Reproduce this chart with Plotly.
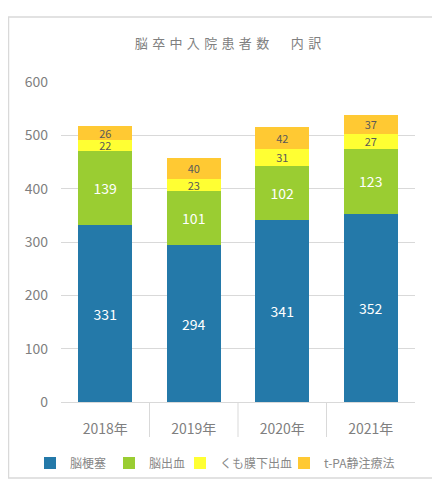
import plotly.graph_objects as go

years = ["2018年", "2019年", "2020年", "2021年"]
infarction = [331, 294, 341, 352]
hemorrhage = [139, 101, 102, 123]
subarachnoid = [22, 23, 31, 27]
tpa = [26, 40, 42, 37]

series_names = ["脳梗塞", "脳出血", "くも膜下出血", "t-PA静注療法"]
colors = ["#2479A9", "#9ACD32", "#FFFF33", "#FFC933"]
label_colors = ["white", "white", "#595959", "#595959"]
label_sizes = [14, 14, 11, 11]
legend_ids = ["legend", "legend2", "legend3", "legend4"]
legend_left = [22, 101, 172, 276]   # figure pixels

FONT = "Noto Sans CJK JP"
fig = go.Figure()
for name, vals, col, lc, ls, lg in zip(series_names, [infarction, hemorrhage, subarachnoid, tpa],
                                       colors, label_colors, label_sizes, legend_ids):
    fig.add_trace(go.Bar(
        x=years, y=vals, name=name, marker=dict(color=col, line=dict(width=0)),
        text=vals, textposition="inside", insidetextanchor="middle",
        textfont=dict(color=lc, size=ls, family=FONT), textangle=0,
        constraintext="none", legend=lg,
    ))

# page body has 8px margin: targets below are in figure pixels
W, H = 440, 500
l, r, t, b = 53, 33, 74, 106
pw, ph = W - l - r, H - t - b
def px(x):
    return (x - l) / pw
def py(y):
    return (H - b - y) / ph

shapes = [dict(type="rect", xref="paper", yref="paper",
               x0=px(0.5), x1=px(425), y0=py(470), y1=py(9),
               line=dict(color="#d9d9d9", width=1.5), fillcolor="rgba(0,0,0,0)", layer="below")]
for bx in [0.5, 1.5, 2.5]:
    shapes.append(dict(type="line", xref="x", yref="paper", x0=bx, x1=bx,
                       y0=0, y1=py(429), line=dict(color="#d9d9d9", width=1)))

sp = "\u2004"
title_text = sp.join(list("脳卒中入院患者数")) + sp + "\u3000" + sp + sp.join(list("内訳"))

legends = {}
for lg, xl in zip(legend_ids, legend_left):
    legends[lg] = dict(orientation="h", xref="container", yref="container",
                       x=xl / W, xanchor="left", y=1 - 455 / H, yanchor="middle",
                       font=dict(size=12, color="#888888", family=FONT),
                       itemwidth=30, bgcolor="rgba(0,0,0,0)")

fig.update_layout(
    width=W, height=H,
    margin=dict(l=l, r=r, t=t, b=b, autoexpand=False),
    barmode="stack", bargap=0.39,
    plot_bgcolor="white", paper_bgcolor="white",
    font=dict(family=FONT, color="#888888"),
    title=dict(text=title_text, x=px(220), xanchor="center", xref="paper",
               y=1 - 35 / H, yanchor="middle",
               font=dict(size=13, color="#808080", family=FONT)),
    xaxis=dict(showgrid=False, ticks="", tickfont=dict(size=14, color="#7f7f7f", family=FONT),
               ticklabelstandoff=17, showline=False, range=[-0.5, 3.5]),
    yaxis=dict(range=[0, 600], dtick=100, gridcolor="#d9d9d9", gridwidth=1,
               zeroline=True, zerolinecolor="#d9d9d9", zerolinewidth=1,
               tickfont=dict(size=14, color="#7f7f7f", family=FONT), ticklabelstandoff=12),
    shapes=shapes,
    showlegend=True,
    **legends,
)
fig.write_html("out.html")
